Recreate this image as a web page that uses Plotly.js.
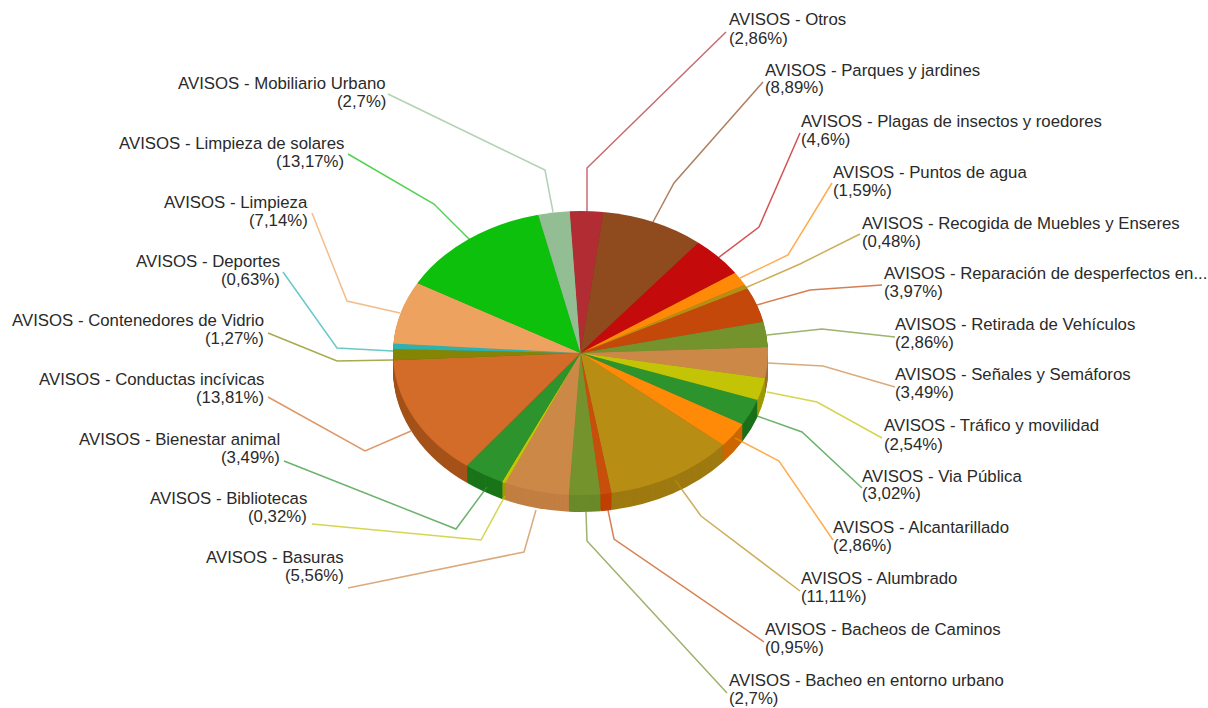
<!DOCTYPE html>
<html>
<head>
<meta charset="utf-8">
<script src="https://cdn.plot.ly/plotly-3.0.1.min.js"></script>
<style>html,body{margin:0;padding:0;background:#fff;overflow:hidden}</style>
</head>
<body>
<div id="chart" style="width:1208px;height:708px"></div>
<script>
// ---- data ----
const categories = ["Otros","Parques y jardines","Plagas de insectos y roedores","Puntos de agua",
  "Recogida de Muebles y Enseres","Reparación de desperfectos en...","Retirada de Vehículos",
  "Señales y Semáforos","Tráfico y movilidad","Via Pública","Alcantarillado","Alumbrado",
  "Bacheos de Caminos","Bacheo en entorno urbano","Basuras","Bibliotecas","Bienestar animal",
  "Conductas incívicas","Contenedores de Vidrio","Deportes","Limpieza","Limpieza de solares",
  "Mobiliario Urbano"];
const seriesValues = [2.86,8.89,4.6,1.59,0.48,3.97,2.86,3.49,2.54,3.02,2.86,11.11,0.95,2.7,5.56,0.32,3.49,13.81,1.27,0.63,7.14,13.17,2.7];
const sliceColors = ["#B22D33","#8F4A1D","#C40A0A","#FF8A08","#B58F14","#C4480A","#75932D","#CC8847",
  "#C4C406","#2D932D","#FF8A08","#B88D14","#C84E0C","#75932D","#CC8847","#C4C406","#2D932D",
  "#D26C28","#858505","#2DB2B2","#EDA35F","#0CC00C","#93BE93"];
const rimColors = ["#8E242A","#723B17","#9D0808","#CC6E06","#917210","#9D3A08","#5E7624","#A36D39",
  "#9C9A05","#1A701A","#CC6600","#9E7A10","#BF4000","#6A8A2A","#C27F42","#9C9A05","#1A741A",
  "#A5521A","#6A6A04","#248E8E","#BE824C","#0A9A0A","#76987A"];

// ---- layout of labels and leaders (page pixels) ----
const W = 1208, H = 708;
const labelPos = [[728,29],[764,79],[800,130],[832,181],[861,232],[883,282],[894,333],[894,383],[883,435],
  [861,485],[832,536],[800,587],[764,638],[728,689],[345,566],[308,507],[281,448],[265,388],[265,329],
  [281,270],[309,211],[345,152],[387,92]];
const lineGap = 18;
const leaders = [
  [[726,32],[587,168],[587,212]],
  [[763,82],[674,183],[653,222]],
  [[800,133],[759,227],[718,258]],
  [[832,183],[788,255],[740,278]],
  [[860,234],[800,264],[745,288]],
  [[882,285],[810,290],[757,305]],
  [[895,337],[822,329],[767,335]],
  [[895,387],[823,366],[768,363]],
  [[882,438],[817,402],[767,392]],
  [[862,488],[802,432],[757,416]],
  [[833,540],[779,461],[735,438]],
  [[800,591],[701,516],[675,480]],
  [[764,642],[614,539],[608,510]],
  [[727,693],[587,541],[586,512]],
  [[348,588],[524,552],[536,510]],
  [[312,524],[481,540],[505,496]],
  [[284,461],[456,529],[487,487]],
  [[268,397],[365,451],[411,431]],
  [[268,333],[337,361],[393,360]],
  [[283,272],[337,348],[393,351]],
  [[312,213],[347,301],[400,313]],
  [[348,154],[434,204],[470,240]],
  [[388,94],[545,170],[553,212]]
];
const cx = 580.5, cy = 353, rx = 187.5, squash = 0.757, depth = 17;

const px = x => x / W, py = y => 1 - y / H;
const domain = {x: [px(cx - rx), px(cx + rx)], y: [py(cy + rx), py(cy - rx)]};
const pieBase = {
  type: 'pie', labels: categories, values: seriesValues, sort: false, direction: 'clockwise',
  rotation: -3.3, textinfo: 'none', hoverinfo: 'label+percent', domain: domain, automargin: false
};
// The side wall is the same pie repeated one pixel apart, deepest first; the top face comes last.
const traces = [];
const offsets = [];
for (let d = depth; d >= 1; d--) {
  traces.push(Object.assign({}, pieBase, {name: 'rim' + d, marker: {colors: rimColors, line: {width: 0}}}));
  offsets.push(d);
}
traces.push(Object.assign({}, pieBase, {name: 'top', marker: {colors: sliceColors, line: {width: 0}}}));
offsets.push(0);

const annotations = [];
categories.forEach((c, i) => {
  const left = i < 14;
  const lines = [`AVISOS - ${c}`, `(${String(seriesValues[i]).replace('.', ',')}%)`];
  lines.forEach((text, j) => annotations.push({
    xref: 'paper', yref: 'paper', x: px(labelPos[i][0]), y: py(labelPos[i][1] + (j - 0.5) * lineGap),
    xanchor: left ? 'left' : 'right', yanchor: 'middle', align: left ? 'left' : 'right',
    showarrow: false, borderpad: 0, text: text,
    font: {family: '"Liberation Sans", Arial, sans-serif', size: 16.8, color: '#2a2a2a'}
  }));
});
const shapes = leaders.map((pts, i) => ({
  type: 'path', xref: 'paper', yref: 'paper', layer: 'above', opacity: 0.7,
  path: pts.map((p, j) => (j ? 'L' : 'M') + px(p[0]) + ',' + py(p[1])).join(' '),
  line: {color: sliceColors[i], width: 1.5}
}));
const layout = {
  width: W, height: H, margin: {l: 0, r: 0, t: 0, b: 0}, showlegend: false,
  paper_bgcolor: '#fff', annotations: annotations, shapes: shapes
};
Plotly.newPlot('chart', traces, layout, {displayModeBar: false, staticPlot: true}).then(() => {
  // Tilt the pie: flatten each pie trace about its centre, and lower the wall copies.
  const groups = document.querySelectorAll('.pielayer .trace');
  groups.forEach((g, i) => {
    g.setAttribute('transform', `translate(0,${cy + offsets[i]}) scale(1,${squash}) translate(0,${-cy})`);
  });
});
</script>
</body>
</html>
